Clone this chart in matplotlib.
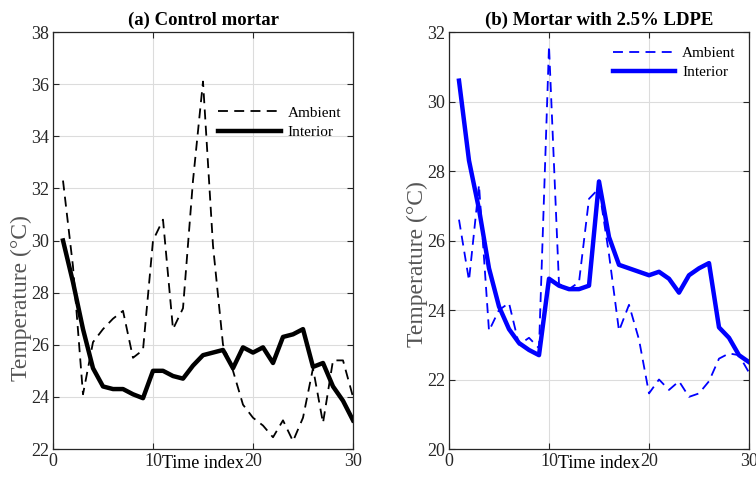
import numpy as np
import matplotlib.pyplot as plt

plt.rcParams["font.family"] = ["Liberation Serif", "DejaVu Serif"]
plt.rcParams["mathtext.fontset"] = "stix"

# Time index shared by both panels
time_idx = np.arange(1, 31)

# (a) control mortar, temperatures in deg C
ctrl_ambient = [32.3, 29.0, 24.1, 26.1, 26.6, 27.0, 27.3, 25.5, 25.8, 30.0,
                30.8, 26.6, 27.4, 32.3, 36.1, 29.8, 26.0, 25.0, 23.7, 23.2,
                22.9, 22.45, 23.1, 22.3, 23.2, 25.1, 23.0, 25.4, 25.4, 24.0]
ctrl_interior = [30.0, 28.4, 26.6, 25.1, 24.4, 24.3, 24.3, 24.1, 23.95, 25.0,
                 25.0, 24.8, 24.7, 25.2, 25.6, 25.7, 25.8, 25.1, 25.9, 25.7,
                 25.9, 25.3, 26.3, 26.4, 26.6, 25.15, 25.3, 24.4, 23.85, 23.1]

# (b) mortar with 2.5% LDPE
ldpe_ambient = [26.6, 24.85, 27.6, 23.4, 24.0, 24.2, 23.0, 23.2, 22.9, 31.6,
                24.75, 24.6, 24.8, 27.2, 27.5, 25.6, 23.4, 24.15, 23.15, 21.6,
                22.0, 21.7, 21.95, 21.5, 21.6, 21.95, 22.6, 22.75, 22.7, 22.2]
ldpe_interior = [30.6, 28.3, 26.9, 25.2, 24.1, 23.45, 23.05, 22.85, 22.7, 24.9,
                 24.7, 24.6, 24.6, 24.7, 27.7, 26.1, 25.3, 25.2, 25.1, 25.0,
                 25.1, 24.9, 24.5, 25.0, 25.2, 25.35, 23.5, 23.2, 22.7, 22.5]

panels = [
    dict(title="(a) Control mortar", color="black",
         ambient=ctrl_ambient, interior=ctrl_interior,
         ylim=(22, 38), yticks=np.arange(22, 39, 2),
         left=53, ylab_y=0.362, ylab_x=32, leg=(0.55, 0.783)),
    dict(title="(b) Mortar with 2.5% LDPE", color="#0000ff",
         ambient=ldpe_ambient, interior=ldpe_interior,
         ylim=(20, 32), yticks=np.arange(20, 33, 2),
         left=449, ylab_y=0.444, ylab_x=428, leg=(0.546, 0.926)),
]

W, H = 756, 490
fig = plt.figure(figsize=(W / 100, H / 100), dpi=100)

for p in panels:
    ax = fig.add_axes([p["left"] / W, (H - 449) / H, 300 / W, 417 / H])
    ax.plot(time_idx, p["ambient"], color=p["color"], lw=1.3,
            linestyle=(0, (5.5, 3.5)), label="Ambient")
    ax.plot(time_idx, p["interior"], color=p["color"], lw=3.2,
            solid_joinstyle="round", label="Interior")

    ax.set_xlim(0, 30)
    ax.set_ylim(*p["ylim"])
    ax.set_xticks([0, 10, 20, 30])
    ax.set_yticks(p["yticks"])
    ax.grid(True, color="#dcdcdc", lw=0.8)
    ax.set_axisbelow(True)
    ax.tick_params(direction="in", top=True, right=True, length=4,
                   labelsize=13, colors="#262626", pad=3)
    for s in ax.spines.values():
        s.set_color("#262626")
        s.set_linewidth(0.9)

    ax.set_title(p["title"], fontsize=13.5, fontweight="bold", pad=5)
    # x label sits on the same row as the tick labels, between 10 and 20
    ax.set_xlabel("Time index", fontsize=13, labelpad=-11)
    ax.set_ylabel("Temperature (°C)", fontsize=17, color="#555555")
    ax.yaxis.set_label_coords((p["ylab_x"] - p["left"]) / 300, p["ylab_y"])

    ax.legend(loc="center left", bbox_to_anchor=p["leg"], frameon=False,
              fontsize=11, handlelength=4.1, handletextpad=0.45,
              labelspacing=0.35, borderpad=0, borderaxespad=0)

fig.savefig("out.png", dpi=100)
